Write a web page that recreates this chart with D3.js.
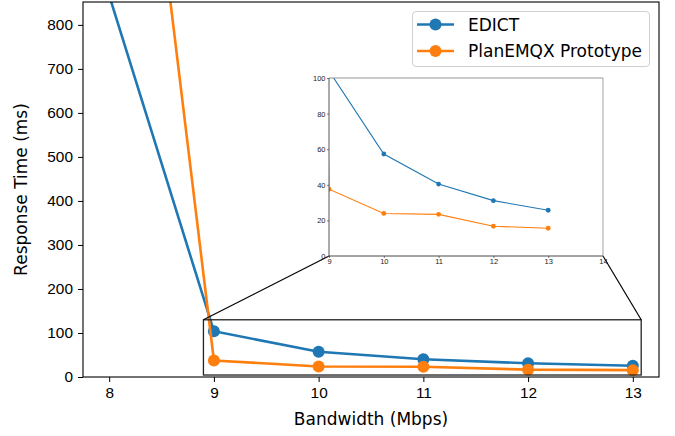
<!DOCTYPE html>
<html>
<head>
<meta charset="utf-8">
<script src="https://cdn.jsdelivr.net/npm/d3@7"></script>
<style>
  body { margin: 0; background: #fff; }
  svg { display: block; font-family: "DejaVu Sans", sans-serif; }
</style>
</head>
<body>
<div id="chart"></div>
<script>
// data
const bandwidth = [8, 9, 10, 11, 12, 13];
const edict = [867, 104, 57.3, 40.4, 31.1, 25.7];
const planEmqx = [2000, 37.5, 23.9, 23.4, 16.7, 15.6];
const seriesNames = ["EDICT", "PlanEMQX Prototype"];
const colors = ["#1f77b4", "#ff7f0e"];
const xTicks = [8, 9, 10, 11, 12, 13];
const yTicks = [0, 100, 200, 300, 400, 500, 600, 700, 800];
const insetXTicks = [9, 10, 11, 12, 13, 14];
const insetYTicks = [0, 20, 40, 60, 80, 100];
const zoomBox = {x0: 8.9, x1: 13.08, y0: 4.5, y1: 130};

const width = 675, height = 436;
const main = {left: 83, right: 659, top: 2, bottom: 377};
const inset = {left: 329, right: 603, top: 78, bottom: 256};

const svg = d3.select("#chart").append("svg")
    .attr("width", width)
    .attr("height", height);

const x = d3.scaleLinear().domain([7.75, 13.25]).range([main.left, main.right]);
const y = d3.scaleLinear().domain([0, 852]).range([main.bottom, main.top]);
const xi = d3.scaleLinear().domain([9, 14]).range([inset.left, inset.right]);
const yi = d3.scaleLinear().domain([0, 100]).range([inset.bottom, inset.top]);

const series = [edict, planEmqx].map((vals, i) => ({
    name: seriesNames[i],
    color: colors[i],
    points: bandwidth.map((b, j) => ({x: b, y: vals[j]}))
}));

const defs = svg.append("defs");
defs.append("clipPath").attr("id", "clipMain").append("rect")
    .attr("x", main.left).attr("y", main.top)
    .attr("width", main.right - main.left).attr("height", main.bottom - main.top);
defs.append("clipPath").attr("id", "clipInset").append("rect")
    .attr("x", inset.left).attr("y", inset.top)
    .attr("width", inset.right - inset.left).attr("height", inset.bottom - inset.top);

// main axes
const xAxis = d3.axisBottom(x).tickValues(xTicks).tickSize(5).tickPadding(5).tickFormat(d3.format("d"));
const yAxis = d3.axisLeft(y).tickValues(yTicks).tickSize(5).tickPadding(5).tickFormat(d3.format("d"));

const gx = svg.append("g").attr("transform", "translate(0," + main.bottom + ")").call(xAxis);
const gy = svg.append("g").attr("transform", "translate(" + main.left + ",0)").call(yAxis);
[gx, gy].forEach(g => {
    g.select(".domain").remove();
    g.selectAll(".tick line").attr("stroke", "#000").attr("stroke-width", 1);
    g.selectAll(".tick text").attr("fill", "#000").attr("font-size", 15.4);
});

svg.append("text")
    .attr("x", (main.left + main.right) / 2)
    .attr("y", 425)
    .attr("text-anchor", "middle")
    .attr("font-size", 17)
    .text("Bandwidth (Mbps)");

svg.append("text")
    .attr("transform", "translate(27," + ((main.top + main.bottom) / 2) + ") rotate(-90)")
    .attr("text-anchor", "middle")
    .attr("font-size", 17)
    .text("Response Time (ms)");

const lineMain = d3.line().x(d => x(d.x)).y(d => y(d.y));
const plotMain = svg.append("g").attr("clip-path", "url(#clipMain)");
series.forEach(s => {
    plotMain.append("path")
        .datum(s.points)
        .attr("d", lineMain)
        .attr("fill", "none")
        .attr("stroke", s.color)
        .attr("stroke-width", 2.6);
    plotMain.selectAll(null)
        .data(s.points)
        .enter().append("circle")
        .attr("cx", d => x(d.x))
        .attr("cy", d => y(d.y))
        .attr("r", 6)
        .attr("fill", s.color);
});

// zoom indicator
svg.append("rect")
    .attr("x", x(zoomBox.x0))
    .attr("y", y(zoomBox.y1))
    .attr("width", x(zoomBox.x1) - x(zoomBox.x0))
    .attr("height", y(zoomBox.y0) - y(zoomBox.y1))
    .attr("fill", "none")
    .attr("stroke", "#222")
    .attr("stroke-width", 1.3);

svg.append("rect")
    .attr("x", main.left).attr("y", main.top)
    .attr("width", main.right - main.left).attr("height", main.bottom - main.top)
    .attr("fill", "none").attr("stroke", "#000").attr("stroke-width", 1.1);

svg.append("line")
    .attr("x1", x(zoomBox.x0)).attr("y1", y(zoomBox.y1))
    .attr("x2", inset.left).attr("y2", inset.bottom)
    .attr("stroke", "#000").attr("stroke-width", 1.2);
svg.append("line")
    .attr("x1", x(zoomBox.x1)).attr("y1", y(zoomBox.y1))
    .attr("x2", inset.right).attr("y2", inset.bottom)
    .attr("stroke", "#000").attr("stroke-width", 1.2);

// inset
svg.append("rect")
    .attr("x", inset.left).attr("y", inset.top)
    .attr("width", inset.right - inset.left).attr("height", inset.bottom - inset.top)
    .attr("fill", "#fff");

const lineInset = d3.line().x(d => xi(d.x)).y(d => yi(d.y));
const plotInset = svg.append("g").attr("clip-path", "url(#clipInset)");
series.forEach(s => {
    plotInset.append("path")
        .datum(s.points)
        .attr("d", lineInset)
        .attr("fill", "none")
        .attr("stroke", s.color)
        .attr("stroke-width", 1.1);
    plotInset.selectAll(null)
        .data(s.points)
        .enter().append("circle")
        .attr("cx", d => xi(d.x))
        .attr("cy", d => yi(d.y))
        .attr("r", 2.4)
        .attr("fill", s.color);
});

const gxi = svg.append("g").attr("transform", "translate(0," + inset.bottom + ")")
    .call(d3.axisBottom(xi).tickValues(insetXTicks).tickSize(2).tickPadding(1).tickFormat(d3.format("d")));
const gyi = svg.append("g").attr("transform", "translate(" + inset.left + ",0)")
    .call(d3.axisLeft(yi).tickValues(insetYTicks).tickSize(2).tickPadding(1.5).tickFormat(d3.format("d")));
[gxi, gyi].forEach(g => {
    g.select(".domain").remove();
    g.selectAll(".tick line").attr("stroke", "#444").attr("stroke-width", 0.7);
    g.selectAll(".tick text").attr("fill", "#222").attr("font-size", 7.5);
});

// inset spines: top/right lighter, bottom/left darker
svg.append("line").attr("x1", inset.left).attr("x2", inset.right)
    .attr("y1", inset.top).attr("y2", inset.top).attr("stroke", "#888").attr("stroke-width", 0.9);
svg.append("line").attr("x1", inset.right).attr("x2", inset.right)
    .attr("y1", inset.top).attr("y2", inset.bottom).attr("stroke", "#999").attr("stroke-width", 0.9);
svg.append("line").attr("x1", inset.left).attr("x2", inset.right)
    .attr("y1", inset.bottom).attr("y2", inset.bottom).attr("stroke", "#333").attr("stroke-width", 0.9);
svg.append("line").attr("x1", inset.left).attr("x2", inset.left)
    .attr("y1", inset.top).attr("y2", inset.bottom).attr("stroke", "#444").attr("stroke-width", 0.9);

// legend
const legend = svg.append("g");
legend.append("rect")
    .attr("x", 412.5).attr("y", 11.5)
    .attr("width", 237).attr("height", 55)
    .attr("rx", 3.5)
    .attr("fill", "#fff").attr("fill-opacity", 0.8)
    .attr("stroke", "#d0d0d0").attr("stroke-width", 1);
series.forEach((s, i) => {
    const ly = 24.5 + i * 26.5;
    legend.append("line")
        .attr("x1", 417).attr("x2", 454)
        .attr("y1", ly).attr("y2", ly)
        .attr("stroke", s.color).attr("stroke-width", 2.6);
    legend.append("circle")
        .attr("cx", 435.5).attr("cy", ly).attr("r", 6)
        .attr("fill", s.color);
    legend.append("text")
        .attr("x", 468).attr("y", ly)
        .attr("dy", "0.36em")
        .attr("font-size", 17)
        .text(s.name);
});
</script>
</body>
</html>
